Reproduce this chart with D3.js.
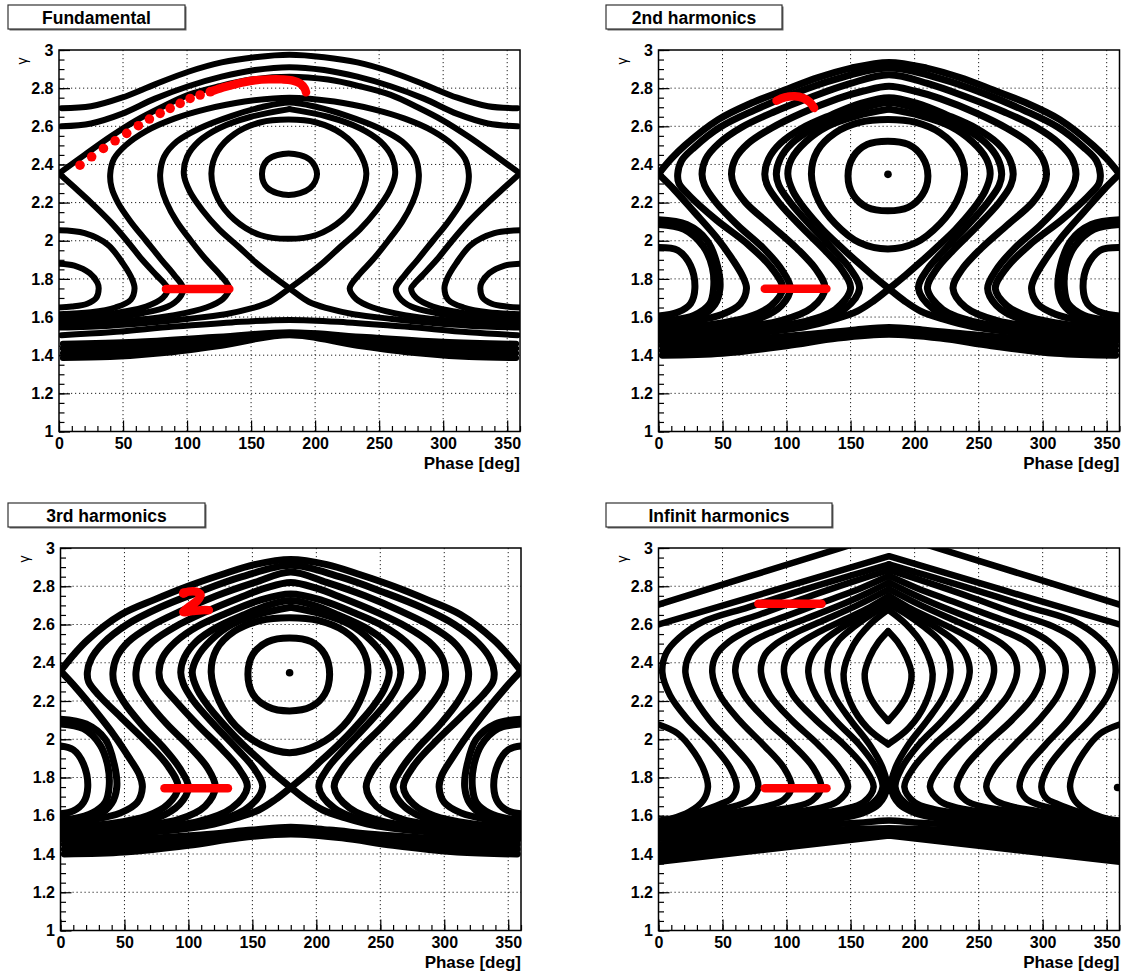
<!DOCTYPE html>
<html><head><meta charset="utf-8">
<script src="https://cdn.jsdelivr.net/npm/d3@7"></script>
<style>
body{margin:0;background:#fff}
svg{display:block}
text{font-family:"Liberation Sans",Arial,Helvetica,sans-serif}
</style></head><body>
<svg id="c" width="1130" height="975"></svg>
<script>
// ---------------- tick labels / titles ----------------
const PHASE_TICKS = [0,50,100,150,200,250,300,350];
const PHASE_LABELS = ["0","50","100","150","200","250","300","350"];
const GAMMA_TICKS = [1,1.2,1.4,1.6,1.8,2,2.2,2.4,2.6,2.8,3];
const GAMMA_LABELS = ["1","1.2","1.4","1.6","1.8","2","2.2","2.4","2.6","2.8","3"];
const PANEL_TITLES = ["Fundamental","2nd harmonics","3rd harmonics","Infinit harmonics"];
const X_TITLE = "Phase [deg]";
const Y_TITLE = "\u03b3";

// ---------------- Fundamental: trajectories [phase, gamma] ----------------
const fundA = [[2,2.695],[25,2.705],[49,2.75],[75,2.82],[101,2.886],[127,2.935],[153,2.962],[180,2.975],[207,2.962],[233,2.935],[259,2.886],[285,2.82],[311,2.75],[335,2.705],[358,2.695]];
const fundB = [[2,2.60],[25,2.615],[49,2.665],[75,2.745],[101,2.81],[127,2.86],[153,2.895],[180,2.91],[207,2.895],[233,2.86],[259,2.81],[285,2.745],[311,2.665],[335,2.615],[358,2.60]];
const fundSep = [[0,2.353],[20,2.45],[40,2.545],[60,2.63],[80,2.70],[101,2.765],[125,2.81],[150,2.845],[180,2.86],[210,2.845],[235,2.81],[259,2.765],[280,2.70],[300,2.63],[320,2.545],[340,2.45],[360,2.353]];
const fundC = [[0,1.575],[15,1.58],[40,1.595],[65,1.62],[85,1.655],[94,1.70],[97,1.75],[90,1.82],[80,1.9],[68,2.0],[56,2.10],[46,2.2],[41,2.28],[40,2.35],[43,2.43],[52,2.50],[68,2.575],[90,2.64],[115,2.69],[145,2.73],[180,2.75],[215,2.73],[245,2.69],[270,2.64],[292,2.575],[308,2.50],[317,2.43],[320,2.35],[319,2.28],[314,2.2],[304,2.10],[292,2.0],[280,1.9],[270,1.82],[263,1.75],[266,1.70],[275,1.655],[295,1.62],[320,1.595],[345,1.58],[360,1.575]];
const fundD = [[0,1.56],[30,1.57],[60,1.585],[90,1.61],[115,1.65],[128,1.695],[133,1.75],[126,1.82],[115,1.9],[103,2.0],[92,2.1],[84,2.2],[80,2.28],[79,2.35],[82,2.44],[92,2.52],[110,2.59],[135,2.655],[158,2.70],[180,2.725],[202,2.70],[225,2.655],[250,2.59],[268,2.52],[278,2.44],[281,2.35],[280,2.28],[276,2.2],[268,2.1],[257,2.0],[245,1.9],[234,1.82],[227,1.75],[232,1.695],[245,1.65],[270,1.61],[300,1.585],[330,1.57],[360,1.56]];
const fundX1 = [[180,2.69],[150,2.65],[125,2.59],[109,2.52],[100,2.44],[97.5,2.35],[102,2.26],[112,2.16],[125,2.06],[140,1.97],[153,1.89],[165,1.825],[180,1.75],[195,1.68],[210,1.645],[230,1.615],[260,1.59],[290,1.57],[320,1.555],[360,1.545]];
const fundX2 = [[180,2.69],[210,2.65],[235,2.59],[251,2.52],[260,2.44],[262.5,2.35],[258,2.26],[248,2.16],[235,2.06],[220,1.97],[207,1.89],[195,1.825],[180,1.75],[165,1.68],[150,1.645],[130,1.615],[100,1.59],[70,1.57],[40,1.555],[0,1.545]];
const fundXLa = [[0,2.353],[12,2.28],[25,2.2],[40,2.10],[53,2.0],[65,1.9],[76,1.82],[83,1.77],[85,1.75],[81,1.70],[68,1.655],[48,1.625],[25,1.60],[0,1.59]];
const fundXLb = [[360,2.353],[348,2.28],[335,2.2],[320,2.10],[307,2.0],[295,1.9],[284,1.82],[277,1.77],[275,1.75],[279,1.70],[292,1.655],[312,1.625],[335,1.60],[360,1.59]];
const fundL1a = [[0,1.88],[12,1.87],[24,1.83],[30,1.78],[31,1.75],[29,1.70],[22,1.67],[10,1.655],[0,1.65]];
const fundL1b = [[360,1.88],[348,1.87],[336,1.83],[330,1.78],[329,1.75],[331,1.70],[338,1.67],[350,1.655],[360,1.65]];
const fundL2a = [[0,2.055],[20,2.04],[38,1.98],[50,1.88],[57,1.80],[59,1.75],[56,1.69],[44,1.65],[25,1.625],[0,1.615]];
const fundL2b = [[360,2.055],[340,2.04],[322,1.98],[310,1.88],[303,1.80],[301,1.75],[304,1.69],[316,1.65],[335,1.625],[360,1.615]];
const fundLow = [[2,1.505],[40,1.52],[90,1.55],[135,1.572],[180,1.585],[225,1.572],[270,1.55],[320,1.52],[358,1.505]];
const fundBand1 = [[3,1.385],[40,1.39],[80,1.41],[127,1.45],[180,1.505],[233,1.45],[280,1.41],[320,1.39],[357,1.385]];
const fundBand2 = [[3,1.41],[60,1.425],[120,1.46],[180,1.51],[240,1.46],[300,1.425],[357,1.41]];
const fundBand3 = [[3,1.435],[60,1.445],[120,1.475],[180,1.515],[240,1.475],[300,1.445],[357,1.435]];
const fundBand4 = [[3,1.46],[60,1.47],[120,1.495],[180,1.52],[240,1.495],[300,1.47],[357,1.46]];
const fundOval = [[119,2.353],[124,2.47],[137,2.56],[157,2.62],[179.3,2.635],[201,2.62],[221,2.56],[234,2.47],[240,2.353],[234,2.22],[221,2.11],[201,2.03],[179.3,2.01],[157,2.03],[137,2.11],[124,2.22]];
const fundEll = [[158.5,2.35],[163,2.425],[179.3,2.458],[196,2.425],[201.5,2.35],[196,2.275],[179.3,2.24],[163,2.275]];
const fundRedDots = [[16.4,2.396],[25.5,2.44],[34.7,2.484],[43.8,2.524],[52.9,2.563],[62.0,2.603],[70.6,2.638],[79.0,2.668],[86.8,2.694],[94.6,2.72],[102.4,2.746],[110.2,2.764],[118.1,2.781]];
const fundRedTrail = [[118.1,2.781],[125.9,2.799],[133.7,2.813],[142.8,2.829],[153.2,2.841],[163.7,2.846],[174.1,2.846],[181.9,2.841],[188.4,2.825],[191.8,2.799],[192.9,2.778]];
const fundRedBar = [[83.5,1.747],[133,1.747]];

// ---------------- 2nd harmonics ----------------
const h2Sep = [[0,2.35],[10,2.43],[20.6,2.50],[46.6,2.635],[72.6,2.722],[98.6,2.79],[124.6,2.855],[150.6,2.905],[180,2.935],[209.4,2.905],[235.4,2.855],[261.4,2.79],[287.4,2.722],[313.4,2.635],[339.4,2.50],[350,2.43],[360,2.35]];
const h2C1 = [[0,1.54],[40,1.56],[70,1.60],[88,1.66],[97,1.75],[88,1.86],[70,1.98],[45,2.11],[25,2.23],[16,2.30],[15,2.35],[18,2.42],[28,2.49],[48,2.595],[75,2.685],[105,2.77],[140,2.85],[180,2.905],[220,2.85],[255,2.77],[285,2.685],[312,2.595],[332,2.49],[342,2.42],[345,2.35],[344,2.30],[335,2.23],[315,2.11],[290,1.98],[272,1.86],[263,1.75],[272,1.66],[290,1.60],[320,1.56],[360,1.54]];
const h2C2 = [[0,1.53],[45,1.55],[78,1.59],[96,1.66],[103,1.75],[96,1.85],[82,1.96],[62,2.08],[45,2.2],[36,2.29],[34,2.35],[37,2.43],[47,2.51],[65,2.595],[90,2.675],[120,2.755],[150,2.825],[180,2.87],[210,2.825],[240,2.755],[270,2.675],[295,2.595],[313,2.51],[323,2.43],[326,2.35],[324,2.29],[315,2.2],[298,2.08],[278,1.96],[264,1.85],[257,1.75],[264,1.66],[282,1.59],[315,1.55],[360,1.53]];
const h2C3 = [[0,1.52],[50,1.54],[95,1.58],[120,1.65],[130,1.75],[123,1.85],[108,1.96],[88,2.08],[68,2.2],[59,2.29],[57,2.35],[60,2.43],[70,2.51],[88,2.59],[112,2.67],[140,2.745],[160,2.785],[180,2.81],[200,2.785],[220,2.745],[248,2.67],[272,2.59],[290,2.51],[300,2.43],[303,2.35],[301,2.29],[292,2.2],[272,2.08],[252,1.96],[237,1.85],[230,1.75],[240,1.65],[265,1.58],[310,1.54],[360,1.52]];
const h2C4 = [[0,1.51],[60,1.53],[110,1.57],[138,1.64],[150,1.75],[143,1.85],[130,1.95],[112,2.07],[94,2.2],[85,2.29],[83,2.35],[86,2.43],[95,2.51],[112,2.59],[135,2.66],[158,2.72],[180,2.75],[202,2.72],[225,2.66],[248,2.59],[265,2.51],[274,2.43],[277,2.35],[275,2.29],[266,2.2],[248,2.07],[230,1.95],[217,1.85],[210,1.75],[222,1.64],[250,1.57],[300,1.53],[360,1.51]];
const h2C5 = [[0,1.50],[60,1.52],[115,1.56],[145,1.64],[157,1.75],[150,1.85],[137,1.95],[120,2.07],[103,2.2],[94,2.29],[92,2.35],[95,2.43],[104,2.51],[120,2.585],[142,2.65],[162,2.70],[180,2.725],[198,2.70],[218,2.65],[240,2.585],[256,2.51],[265,2.43],[268,2.35],[266,2.29],[257,2.2],[240,2.07],[223,1.95],[210,1.85],[203,1.75],[215,1.64],[245,1.56],[300,1.52],[360,1.50]];
const h2X1 = [[180,2.69],[155,2.655],[132,2.60],[115,2.52],[104,2.43],[101,2.35],[105,2.26],[115,2.16],[128,2.06],[142,1.97],[155,1.89],[167,1.82],[180,1.748],[192,1.685],[205,1.63],[222,1.59],[245,1.55],[280,1.52],[320,1.50],[360,1.485]];
const h2X2 = [[180,2.69],[205,2.655],[228,2.60],[245,2.52],[256,2.43],[259,2.35],[255,2.26],[245,2.16],[232,2.06],[218,1.97],[205,1.89],[193,1.82],[180,1.748],[168,1.685],[155,1.63],[138,1.59],[115,1.55],[80,1.52],[40,1.50],[0,1.485]];
const h2XLa = [[0,2.35],[12,2.27],[28,2.15],[45,2.02],[58,1.90],[66,1.81],[68.7,1.75],[64,1.67],[50,1.615],[28,1.58],[0,1.56]];
const h2XLb = [[360,2.35],[348,2.27],[332,2.15],[315,2.02],[302,1.90],[294,1.81],[291.3,1.75],[296,1.67],[310,1.615],[332,1.58],[360,1.56]];
const h2InA = [[0,1.965],[15,1.95],[25,1.87],[28.4,1.75],[25,1.67],[15,1.625],[0,1.605]];
const h2InB = [[360,1.965],[345,1.95],[335,1.87],[331.6,1.75],[335,1.67],[345,1.625],[360,1.605]];
const h2SA1 = [[0,2.085],[20,2.06],[35,1.97],[42,1.86],[43,1.75],[40,1.67],[28,1.61],[12,1.585],[0,1.58]];
const h2SA2 = [[0,2.11],[22,2.085],[38,2.0],[46,1.87],[48,1.75],[44,1.665],[32,1.60],[14,1.57],[0,1.565]];
const h2SB1 = [[360,2.085],[340,2.06],[325,1.97],[318,1.86],[317,1.75],[320,1.67],[332,1.61],[348,1.585],[360,1.58]];
const h2SB2 = [[360,2.11],[338,2.085],[322,2.0],[314,1.87],[312,1.75],[316,1.665],[328,1.60],[346,1.57],[360,1.565]];
const h2Band1 = [[3,1.40],[50,1.41],[100,1.45],[140,1.49],[180,1.51],[220,1.49],[260,1.45],[310,1.41],[357,1.40]];
const h2Band2 = [[3,1.425],[60,1.44],[110,1.475],[150,1.505],[180,1.52],[210,1.505],[250,1.475],[300,1.44],[357,1.425]];
const h2Band3 = [[3,1.45],[60,1.46],[110,1.49],[150,1.515],[180,1.53],[210,1.515],[250,1.49],[300,1.46],[357,1.45]];
const h2Band4 = [[3,1.47],[60,1.48],[110,1.505],[150,1.53],[180,1.545],[210,1.53],[250,1.505],[300,1.48],[357,1.47]];
const h2Oval = [[119.4,2.35],[124,2.47],[138,2.565],[157,2.62],[179.2,2.635],[201,2.62],[220,2.565],[234,2.47],[239,2.35],[233,2.21],[220,2.09],[201,1.99],[179.2,1.957],[157,1.99],[138,2.09],[125,2.21]];
const h2Circle = [[148,2.34],[152,2.44],[163,2.505],[179.2,2.522],[195,2.505],[206,2.44],[210.4,2.34],[206,2.24],[195,2.175],[179.2,2.157],[163,2.175],[152,2.24]];
const h2Dot = [[179.2,2.348]];
const h2RedHook = [[92.2,2.734],[98.6,2.751],[106.4,2.757],[112.9,2.748],[118.1,2.727],[121.5,2.696]];
const h2RedBar = [[83,1.748],[131.1,1.748]];

// ---------------- 3rd harmonics ----------------
const h3Sep = [[0,2.357],[10,2.44],[21.3,2.52],[47.4,2.652],[73.5,2.73],[99.6,2.80],[125.6,2.86],[151.7,2.913],[180,2.94],[208.3,2.913],[234.4,2.86],[260.4,2.80],[286.5,2.73],[312.6,2.652],[338.7,2.52],[350,2.44],[360,2.357]];
const h3C1 = [[0,1.54],[40,1.56],[68,1.60],[84,1.66],[92,1.75],[84,1.86],[68,1.98],[48,2.11],[30,2.23],[22,2.30],[21,2.35],[24,2.42],[33,2.50],[52,2.60],[78,2.69],[108,2.77],[142,2.85],[180,2.91],[218,2.85],[252,2.77],[282,2.69],[308,2.60],[327,2.50],[336,2.42],[339,2.35],[338,2.30],[330,2.23],[312,2.11],[292,1.98],[276,1.86],[268,1.75],[276,1.66],[292,1.60],[320,1.56],[360,1.54]];
const h3C2 = [[0,1.53],[45,1.55],[76,1.59],[93,1.66],[100,1.75],[93,1.85],[80,1.96],[63,2.08],[49,2.2],[42,2.29],[41,2.35],[44,2.43],[53,2.51],[70,2.59],[94,2.67],[122,2.75],[152,2.82],[180,2.875],[208,2.82],[238,2.75],[266,2.67],[290,2.59],[307,2.51],[316,2.43],[319,2.35],[318,2.29],[311,2.2],[297,2.08],[280,1.96],[267,1.85],[260,1.75],[267,1.66],[284,1.59],[315,1.55],[360,1.53]];
const h3C3 = [[0,1.52],[50,1.54],[92,1.58],[113,1.65],[121,1.75],[115,1.85],[101,1.96],[83,2.08],[68,2.2],[60,2.29],[59,2.35],[62,2.43],[72,2.51],[90,2.59],[113,2.665],[140,2.74],[160,2.79],[180,2.82],[200,2.79],[220,2.74],[247,2.665],[270,2.59],[288,2.51],[298,2.43],[301,2.35],[300,2.29],[292,2.2],[277,2.08],[259,1.96],[245,1.85],[239,1.75],[247,1.65],[268,1.58],[310,1.54],[360,1.52]];
const h3C4 = [[0,1.51],[60,1.53],[108,1.57],[134,1.64],[146,1.75],[139,1.85],[126,1.95],[108,2.07],[90,2.2],[79,2.29],[77,2.35],[80,2.43],[90,2.51],[107,2.59],[130,2.66],[155,2.725],[180,2.76],[205,2.725],[230,2.66],[253,2.59],[270,2.51],[280,2.43],[283,2.35],[281,2.29],[270,2.2],[252,2.07],[234,1.95],[221,1.85],[214,1.75],[226,1.64],[252,1.57],[300,1.53],[360,1.51]];
const h3C5 = [[0,1.50],[60,1.52],[115,1.56],[146,1.64],[158,1.75],[151,1.85],[138,1.95],[121,2.07],[104,2.2],[96,2.29],[94,2.35],[97,2.43],[106,2.51],[122,2.585],[143,2.65],[162,2.70],[180,2.725],[198,2.70],[217,2.65],[238,2.585],[254,2.51],[263,2.43],[266,2.35],[264,2.29],[256,2.2],[239,2.07],[222,1.95],[209,1.85],[202,1.75],[214,1.64],[245,1.56],[300,1.52],[360,1.50]];
const h3X1 = [[180,2.69],[156,2.655],[134,2.60],[118,2.52],[107,2.43],[103,2.35],[107,2.26],[117,2.16],[130,2.06],[143,1.97],[156,1.89],[167,1.82],[180,1.748],[192,1.685],[205,1.63],[222,1.59],[245,1.55],[280,1.52],[320,1.50],[360,1.485]];
const h3X2 = [[180,2.69],[204,2.655],[226,2.60],[242,2.52],[253,2.43],[257,2.35],[253,2.26],[243,2.16],[230,2.06],[217,1.97],[204,1.89],[193,1.82],[180,1.748],[168,1.685],[155,1.63],[138,1.59],[115,1.55],[80,1.52],[40,1.50],[0,1.485]];
const h3XLa = [[0,2.357],[12,2.27],[27,2.15],[42,2.02],[54,1.90],[62,1.81],[64,1.75],[60,1.67],[47,1.615],[26,1.58],[0,1.56]];
const h3XLb = [[360,2.357],[348,2.27],[333,2.15],[318,2.02],[306,1.90],[298,1.81],[296,1.75],[300,1.67],[313,1.615],[334,1.58],[360,1.56]];
const h3InA = [[0,1.965],[10,1.945],[18,1.87],[21.3,1.75],[18,1.67],[10,1.625],[0,1.61]];
const h3InB = [[360,1.965],[350,1.945],[342,1.87],[338.7,1.75],[342,1.67],[350,1.625],[360,1.61]];
const h3SA1 = [[0,2.08],[18,2.055],[31,1.97],[37,1.86],[38,1.75],[35,1.67],[25,1.615],[10,1.585],[0,1.58]];
const h3SA2 = [[0,2.105],[20,2.08],[35,2.0],[42,1.87],[44,1.75],[40,1.665],[29,1.60],[12,1.57],[0,1.565]];
const h3SB1 = [[360,2.08],[342,2.055],[329,1.97],[323,1.86],[322,1.75],[325,1.67],[335,1.615],[350,1.585],[360,1.58]];
const h3SB2 = [[360,2.105],[340,2.08],[325,2.0],[318,1.87],[316,1.75],[320,1.665],[331,1.60],[348,1.57],[360,1.565]];
const h3Band1 = [[3,1.40],[50,1.41],[100,1.445],[140,1.485],[180,1.505],[220,1.485],[260,1.445],[310,1.41],[357,1.40]];
const h3Band2 = [[3,1.425],[60,1.44],[110,1.47],[150,1.50],[180,1.515],[210,1.50],[250,1.47],[300,1.44],[357,1.425]];
const h3Band3 = [[3,1.45],[60,1.46],[110,1.485],[150,1.51],[180,1.525],[210,1.51],[250,1.485],[300,1.46],[357,1.45]];
const h3Band4 = [[3,1.47],[60,1.48],[110,1.50],[150,1.525],[180,1.54],[210,1.525],[250,1.50],[300,1.48],[357,1.47]];
const h3Oval = [[117.8,2.35],[122,2.47],[136,2.565],[156,2.62],[179.1,2.635],[202,2.62],[222,2.565],[236,2.47],[240.4,2.35],[234,2.20],[221,2.07],[201,1.97],[179.1,1.93],[157,1.97],[137,2.07],[124,2.20]];
const h3Circle = [[146.5,2.34],[150.5,2.445],[162,2.51],[179.1,2.53],[196,2.51],[206.5,2.445],[210.4,2.34],[206.5,2.235],[196,2.17],[179.1,2.148],[162,2.17],[150.5,2.235]];
const h3Dot = [[179.1,2.348]];
const h3RedTwo = [[96,2.762],[100,2.772],[106,2.772],[109.5,2.755],[107,2.725],[101,2.695],[96,2.665],[103,2.67],[110,2.675],[116,2.675]];
const h3RedBlob = [[96.5,2.765]];
const h3RedBar = [[81.3,1.744],[130.9,1.744]];

// ---------------- Infinite harmonics ----------------
const hiT1 = [[0,2.704],[70,2.85],[140,2.995],[180,3.08],[220,2.995],[290,2.85],[360,2.704]];
const hiT2 = [[0,2.60],[90,2.778],[180,2.957],[270,2.778],[360,2.60]];
const hiC1L = [[0,1.565],[12,1.58],[32,1.62],[48,1.66],[57,1.69],[61,1.75],[56,1.85],[42,1.97],[22,2.11],[9,2.23],[3,2.35],[6,2.45],[16,2.53],[35,2.615],[70,2.69],[110,2.775],[150,2.855],[180,2.915]];
const hiC1R = [[180,2.915],[210,2.855],[250,2.775],[290,2.69],[325,2.615],[344,2.53],[354,2.45],[357,2.35],[351,2.23],[338,2.11],[318,1.97],[304,1.85],[299,1.75],[303,1.69],[312,1.66],[328,1.62],[348,1.58],[360,1.565]];
const hiC2L = [[0,1.555],[20,1.585],[45,1.63],[62,1.655],[73,1.69],[78,1.75],[73,1.85],[58,1.97],[40,2.10],[27,2.23],[21,2.35],[24,2.44],[34,2.52],[52,2.59],[80,2.655],[115,2.74],[150,2.82],[180,2.885]];
const hiC2R = [[180,2.885],[210,2.82],[245,2.74],[280,2.655],[308,2.59],[326,2.52],[336,2.44],[339,2.35],[333,2.23],[320,2.10],[302,1.97],[287,1.85],[282,1.75],[287,1.69],[298,1.655],[315,1.63],[340,1.585],[360,1.555]];
const hiC3L = [[0,1.55],[35,1.59],[65,1.625],[85,1.65],[98,1.685],[104,1.75],[98,1.85],[82,1.97],[63,2.10],[48,2.23],[42,2.35],[45,2.44],[55,2.51],[72,2.575],[98,2.64],[130,2.72],[158,2.79],[180,2.855]];
const hiC3R = [[180,2.855],[202,2.79],[230,2.72],[262,2.64],[288,2.575],[305,2.51],[315,2.44],[318,2.35],[312,2.23],[297,2.10],[278,1.97],[262,1.85],[256,1.75],[262,1.685],[275,1.65],[295,1.625],[325,1.59],[360,1.55]];
const hiC4L = [[0,1.545],[45,1.585],[80,1.62],[105,1.645],[120,1.68],[127,1.75],[121,1.85],[105,1.97],[84,2.10],[67,2.23],[60,2.35],[63,2.44],[72,2.505],[90,2.565],[115,2.63],[145,2.71],[165,2.77],[180,2.82]];
const hiC4R = [[180,2.82],[195,2.77],[215,2.71],[245,2.63],[270,2.565],[288,2.505],[297,2.44],[300,2.35],[293,2.23],[276,2.10],[255,1.97],[239,1.85],[233,1.75],[240,1.68],[255,1.645],[280,1.62],[315,1.585],[360,1.545]];
const hiC5L = [[0,1.54],[55,1.575],[100,1.615],[125,1.64],[140,1.675],[148,1.75],[141,1.85],[125,1.97],[104,2.10],[87,2.23],[80,2.35],[83,2.44],[92,2.50],[108,2.56],[130,2.625],[155,2.70],[180,2.785]];
const hiC5R = [[180,2.785],[205,2.70],[230,2.625],[252,2.56],[268,2.50],[277,2.44],[280,2.35],[273,2.23],[256,2.10],[235,1.97],[219,1.85],[212,1.75],[220,1.675],[235,1.64],[260,1.615],[305,1.575],[360,1.54]];
const hiC6L = [[0,1.535],[65,1.565],[115,1.605],[145,1.635],[160,1.67],[168,1.75],[161,1.85],[145,1.97],[123,2.10],[105,2.23],[98,2.35],[101,2.44],[110,2.50],[125,2.56],[145,2.625],[165,2.69],[180,2.75]];
const hiC6R = [[180,2.75],[195,2.69],[215,2.625],[235,2.56],[250,2.50],[259,2.44],[262,2.35],[255,2.23],[237,2.10],[215,1.97],[199,1.85],[192,1.75],[200,1.67],[215,1.635],[245,1.605],[295,1.565],[360,1.535]];
const hiC7L = [[0,1.53],[75,1.555],[125,1.595],[152,1.625],[167,1.665],[175,1.75],[170,1.85],[157,1.97],[138,2.10],[123,2.23],[117,2.35],[120,2.44],[128,2.51],[141,2.575],[158,2.64],[172,2.69],[180,2.725]];
const hiC7R = [[180,2.725],[188,2.69],[202,2.64],[219,2.575],[232,2.51],[240,2.44],[243,2.35],[237,2.23],[222,2.10],[203,1.97],[190,1.85],[185,1.75],[193,1.665],[208,1.625],[235,1.595],[285,1.555],[360,1.53]];
const hiC8L = [[0,1.525],[80,1.545],[140,1.585],[160,1.615],[172,1.66],[178.5,1.75],[175,1.85],[165,1.97],[150,2.10],[137,2.23],[132,2.35],[134,2.44],[141,2.52],[153,2.59],[168,2.66],[180,2.705]];
const hiC8R = [[180,2.705],[192,2.66],[207,2.59],[219,2.52],[226,2.44],[228,2.35],[223,2.23],[210,2.10],[195,1.97],[185,1.85],[181.5,1.75],[188,1.66],[200,1.615],[220,1.585],[280,1.545],[360,1.525]];
const hiH0a = [[0,2.077],[15,2.03],[28,1.93],[36,1.83],[38.6,1.75],[35,1.68],[24,1.62],[10,1.585],[0,1.575]];
const hiH0b = [[360,2.077],[345,2.03],[332,1.93],[324,1.83],[321.4,1.75],[325,1.68],[336,1.62],[350,1.585],[360,1.575]];
const hiB1 = [[0,1.515],[60,1.525],[120,1.55],[160,1.565],[180,1.575],[200,1.565],[240,1.55],[300,1.525],[360,1.515]];
const hiBand1 = [[0,1.36],[180,1.497],[360,1.36]];
const hiBand2 = [[0,1.39],[180,1.505],[360,1.39]];
const hiBand3 = [[0,1.42],[180,1.512],[360,1.42]];
const hiBand4 = [[0,1.45],[180,1.52],[360,1.45]];
const hiBand5 = [[0,1.48],[180,1.527],[360,1.48]];
const hiBand6 = [[0,1.505],[180,1.535],[360,1.505]];
const hiLens1L = [[179.3,2.565],[172,2.51],[165,2.43],[161,2.34],[164,2.24],[171,2.16],[179.3,2.096]];
const hiLens1R = [[179.3,2.565],[186.6,2.51],[193.6,2.43],[197.6,2.34],[194.6,2.24],[187.6,2.16],[179.3,2.096]];
const hiLens2L = [[179.3,2.678],[165,2.60],[152,2.49],[144.5,2.34],[150,2.19],[163,2.06],[179.3,1.974]];
const hiLens2R = [[179.3,2.678],[193.6,2.60],[206.6,2.49],[214.1,2.34],[208.6,2.19],[195.6,2.06],[179.3,1.974]];
const hiDot = [[358.5,1.748]];
const hiRedBarUp = [[78,2.708],[127.3,2.708]];
const hiRedBarLow = [[83,1.744],[131.2,1.744]];

// ---------------- panel assembly ----------------
const panels = [
  {layout:{left:59,right:520,top:50,bottom:431.5,box:[8,5,177,24]}, sw:6,
   smooth:[fundA,fundB,fundSep,fundC,fundD,fundX1,fundX2,fundXLa,fundXLb,fundL1a,fundL1b,fundL2a,fundL2b,fundLow,fundBand1,fundBand2,fundBand3,fundBand4],
   closed:[fundOval,fundEll], linear:[], dots:[],
   redPaths:[fundRedTrail,fundRedBar], redDots:fundRedDots},
  {layout:{left:658.5,right:1119.5,top:50,bottom:431.5,box:[606,5,176,24]}, sw:7,
   smooth:[h2Sep,h2C1,h2C2,h2C3,h2C4,h2C5,h2X1,h2X2,h2XLa,h2XLb,h2InA,h2InB,h2SA1,h2SA2,h2SB1,h2SB2,h2Band1,h2Band2,h2Band3,h2Band4],
   closed:[h2Oval,h2Circle], linear:[], dots:h2Dot,
   redPaths:[h2RedHook,h2RedBar], redDots:[]},
  {layout:{left:60.5,right:521,top:548,bottom:930.5,box:[8,503,197,24]}, sw:7,
   smooth:[h3Sep,h3C1,h3C2,h3C3,h3C4,h3C5,h3X1,h3X2,h3XLa,h3XLb,h3InA,h3InB,h3SA1,h3SA2,h3SB1,h3SB2,h3Band1,h3Band2,h3Band3,h3Band4],
   closed:[h3Oval,h3Circle], linear:[], dots:h3Dot,
   redPaths:[h3RedTwo,h3RedBar], redDots:h3RedBlob},
  {layout:{left:658.5,right:1119.5,top:548,bottom:930.5,box:[606,503,226,24]}, sw:6.5,
   smooth:[hiC1L,hiC1R,hiC2L,hiC2R,hiC3L,hiC3R,hiC4L,hiC4R,hiC5L,hiC5R,hiC6L,hiC6R,hiC7L,hiC7R,hiC8L,hiC8R,hiH0a,hiH0b,hiB1,hiLens1L,hiLens1R,hiLens2L,hiLens2R],
   closed:[], linear:[hiT1,hiT2,hiBand1,hiBand2,hiBand3,hiBand4,hiBand5,hiBand6], dots:hiDot,
   redPaths:[hiRedBarUp,hiRedBarLow], redDots:[]}
];

const svg = d3.select("#c");
svg.append("rect").attr("width",1130).attr("height",975).attr("fill","#fff");
const defs = svg.append("defs");
const FONT = '"Liberation Sans",Arial,Helvetica,sans-serif';

panels.forEach((p,i) => {
  const L = p.layout;
  const g = svg.append("g");
  const x = d3.scaleLinear().domain([0,360]).range([L.left, L.right]);
  const y = d3.scaleLinear().domain([1,3]).range([L.bottom, L.top]);

  // title box
  const [bx,by,bw,bh] = L.box;
  g.append("rect").attr("x",bx+1.5).attr("y",by+1.5).attr("width",bw).attr("height",bh).attr("fill","#666");
  g.append("rect").attr("x",bx).attr("y",by).attr("width",bw).attr("height",bh)
    .attr("fill","#fff").attr("stroke","#333").attr("stroke-width",1.2);
  g.append("text").attr("x",bx+bw/2).attr("y",by+bh-5).attr("text-anchor","middle")
    .attr("font-size",17.5).attr("font-weight","bold").attr("fill","#000").text(PANEL_TITLES[i]);

  // grid
  const grid = g.append("g").attr("stroke","#222").attr("stroke-width",1).attr("stroke-dasharray","1.2,2.8");
  PHASE_TICKS.filter(d=>d>0).forEach(d => grid.append("line").attr("x1",x(d)).attr("x2",x(d)).attr("y1",y(3)).attr("y2",y(1)));
  GAMMA_TICKS.filter(d=>d>1 && d<3).forEach(d => grid.append("line").attr("x1",x(0)).attr("x2",x(360)).attr("y1",y(d)).attr("y2",y(d)));

  // clip
  const cid = "clip"+i;
  defs.append("clipPath").attr("id",cid).append("rect")
    .attr("x",L.left).attr("y",L.top).attr("width",L.right-L.left).attr("height",L.bottom-L.top);
  const cg = g.append("g").attr("clip-path",`url(#${cid})`);

  const smoothLine = d3.line().x(d=>x(d[0])).y(d=>y(d[1])).curve(d3.curveCatmullRom.alpha(0.5));
  const closedLine = d3.line().x(d=>x(d[0])).y(d=>y(d[1])).curve(d3.curveCatmullRomClosed.alpha(0.5));
  const linLine = d3.line().x(d=>x(d[0])).y(d=>y(d[1]));

  const blk = cg.append("g").attr("fill","none").attr("stroke","#000").attr("stroke-width",p.sw)
    .attr("stroke-linecap","round").attr("stroke-linejoin","round");
  p.linear.forEach(c => blk.append("path").attr("d",linLine(c)));
  p.smooth.forEach(c => blk.append("path").attr("d",smoothLine(c)));
  p.closed.forEach(c => blk.append("path").attr("d",closedLine(c)));
  cg.selectAll(null).data(p.dots).enter().append("circle")
    .attr("cx",d=>x(d[0])).attr("cy",d=>y(d[1])).attr("r",3.8).attr("fill","#000");

  // red trajectories
  const red = cg.append("g").attr("fill","none").attr("stroke","#ff0000").attr("stroke-width",8.5)
    .attr("stroke-linecap","round").attr("stroke-linejoin","round");
  p.redPaths.forEach(c => red.append("path").attr("d",smoothLine(c)));
  cg.selectAll(null).data(p.redDots).enter().append("circle")
    .attr("cx",d=>x(d[0])).attr("cy",d=>y(d[1])).attr("r",4.8).attr("fill","#ff0000");

  // axes
  const styleAxis = a => { a.select(".domain").remove(); a.selectAll(".tick line").attr("stroke","#000").attr("stroke-width",1.2); };
  g.append("g").attr("transform",`translate(0,${L.bottom})`)
    .call(d3.axisBottom(x).tickValues(d3.range(0,361,10)).tickSize(-5.5).tickFormat(""))
    .call(styleAxis);
  g.append("g").attr("transform",`translate(${L.left},0)`)
    .call(d3.axisLeft(y).tickValues(d3.range(1,3.001,0.05)).tickSize(-5.5).tickFormat(""))
    .call(styleAxis);
  const xa = g.append("g").attr("transform",`translate(0,${L.bottom})`)
    .call(d3.axisBottom(x).tickValues(PHASE_TICKS).tickSize(-11).tickPadding(6.5).tickFormat((d,k)=>PHASE_LABELS[k]))
    .call(styleAxis);
  const ya = g.append("g").attr("transform",`translate(${L.left},0)`)
    .call(d3.axisLeft(y).tickValues(GAMMA_TICKS).tickSize(-11).tickPadding(5.5).tickFormat((d,k)=>GAMMA_LABELS[k]))
    .call(styleAxis);
  [xa,ya].forEach(a => a.selectAll("text").attr("font-family",FONT).attr("font-size",16).attr("font-weight","bold").attr("fill","#000"));

  // frame
  g.append("rect").attr("x",L.left).attr("y",L.top).attr("width",L.right-L.left).attr("height",L.bottom-L.top)
    .attr("fill","none").attr("stroke","#000").attr("stroke-width",1.5);

  // axis titles
  g.append("text").attr("x",L.right).attr("y",L.bottom+37).attr("text-anchor","end")
    .attr("font-size",17).attr("font-weight","bold").attr("fill","#000").text(X_TITLE);
  g.append("text").attr("transform",`translate(${L.left-32},${L.top+11}) rotate(-90)`)
    .attr("text-anchor","middle").attr("font-size",14).attr("fill","#000").text(Y_TITLE);
});
</script></body></html>
